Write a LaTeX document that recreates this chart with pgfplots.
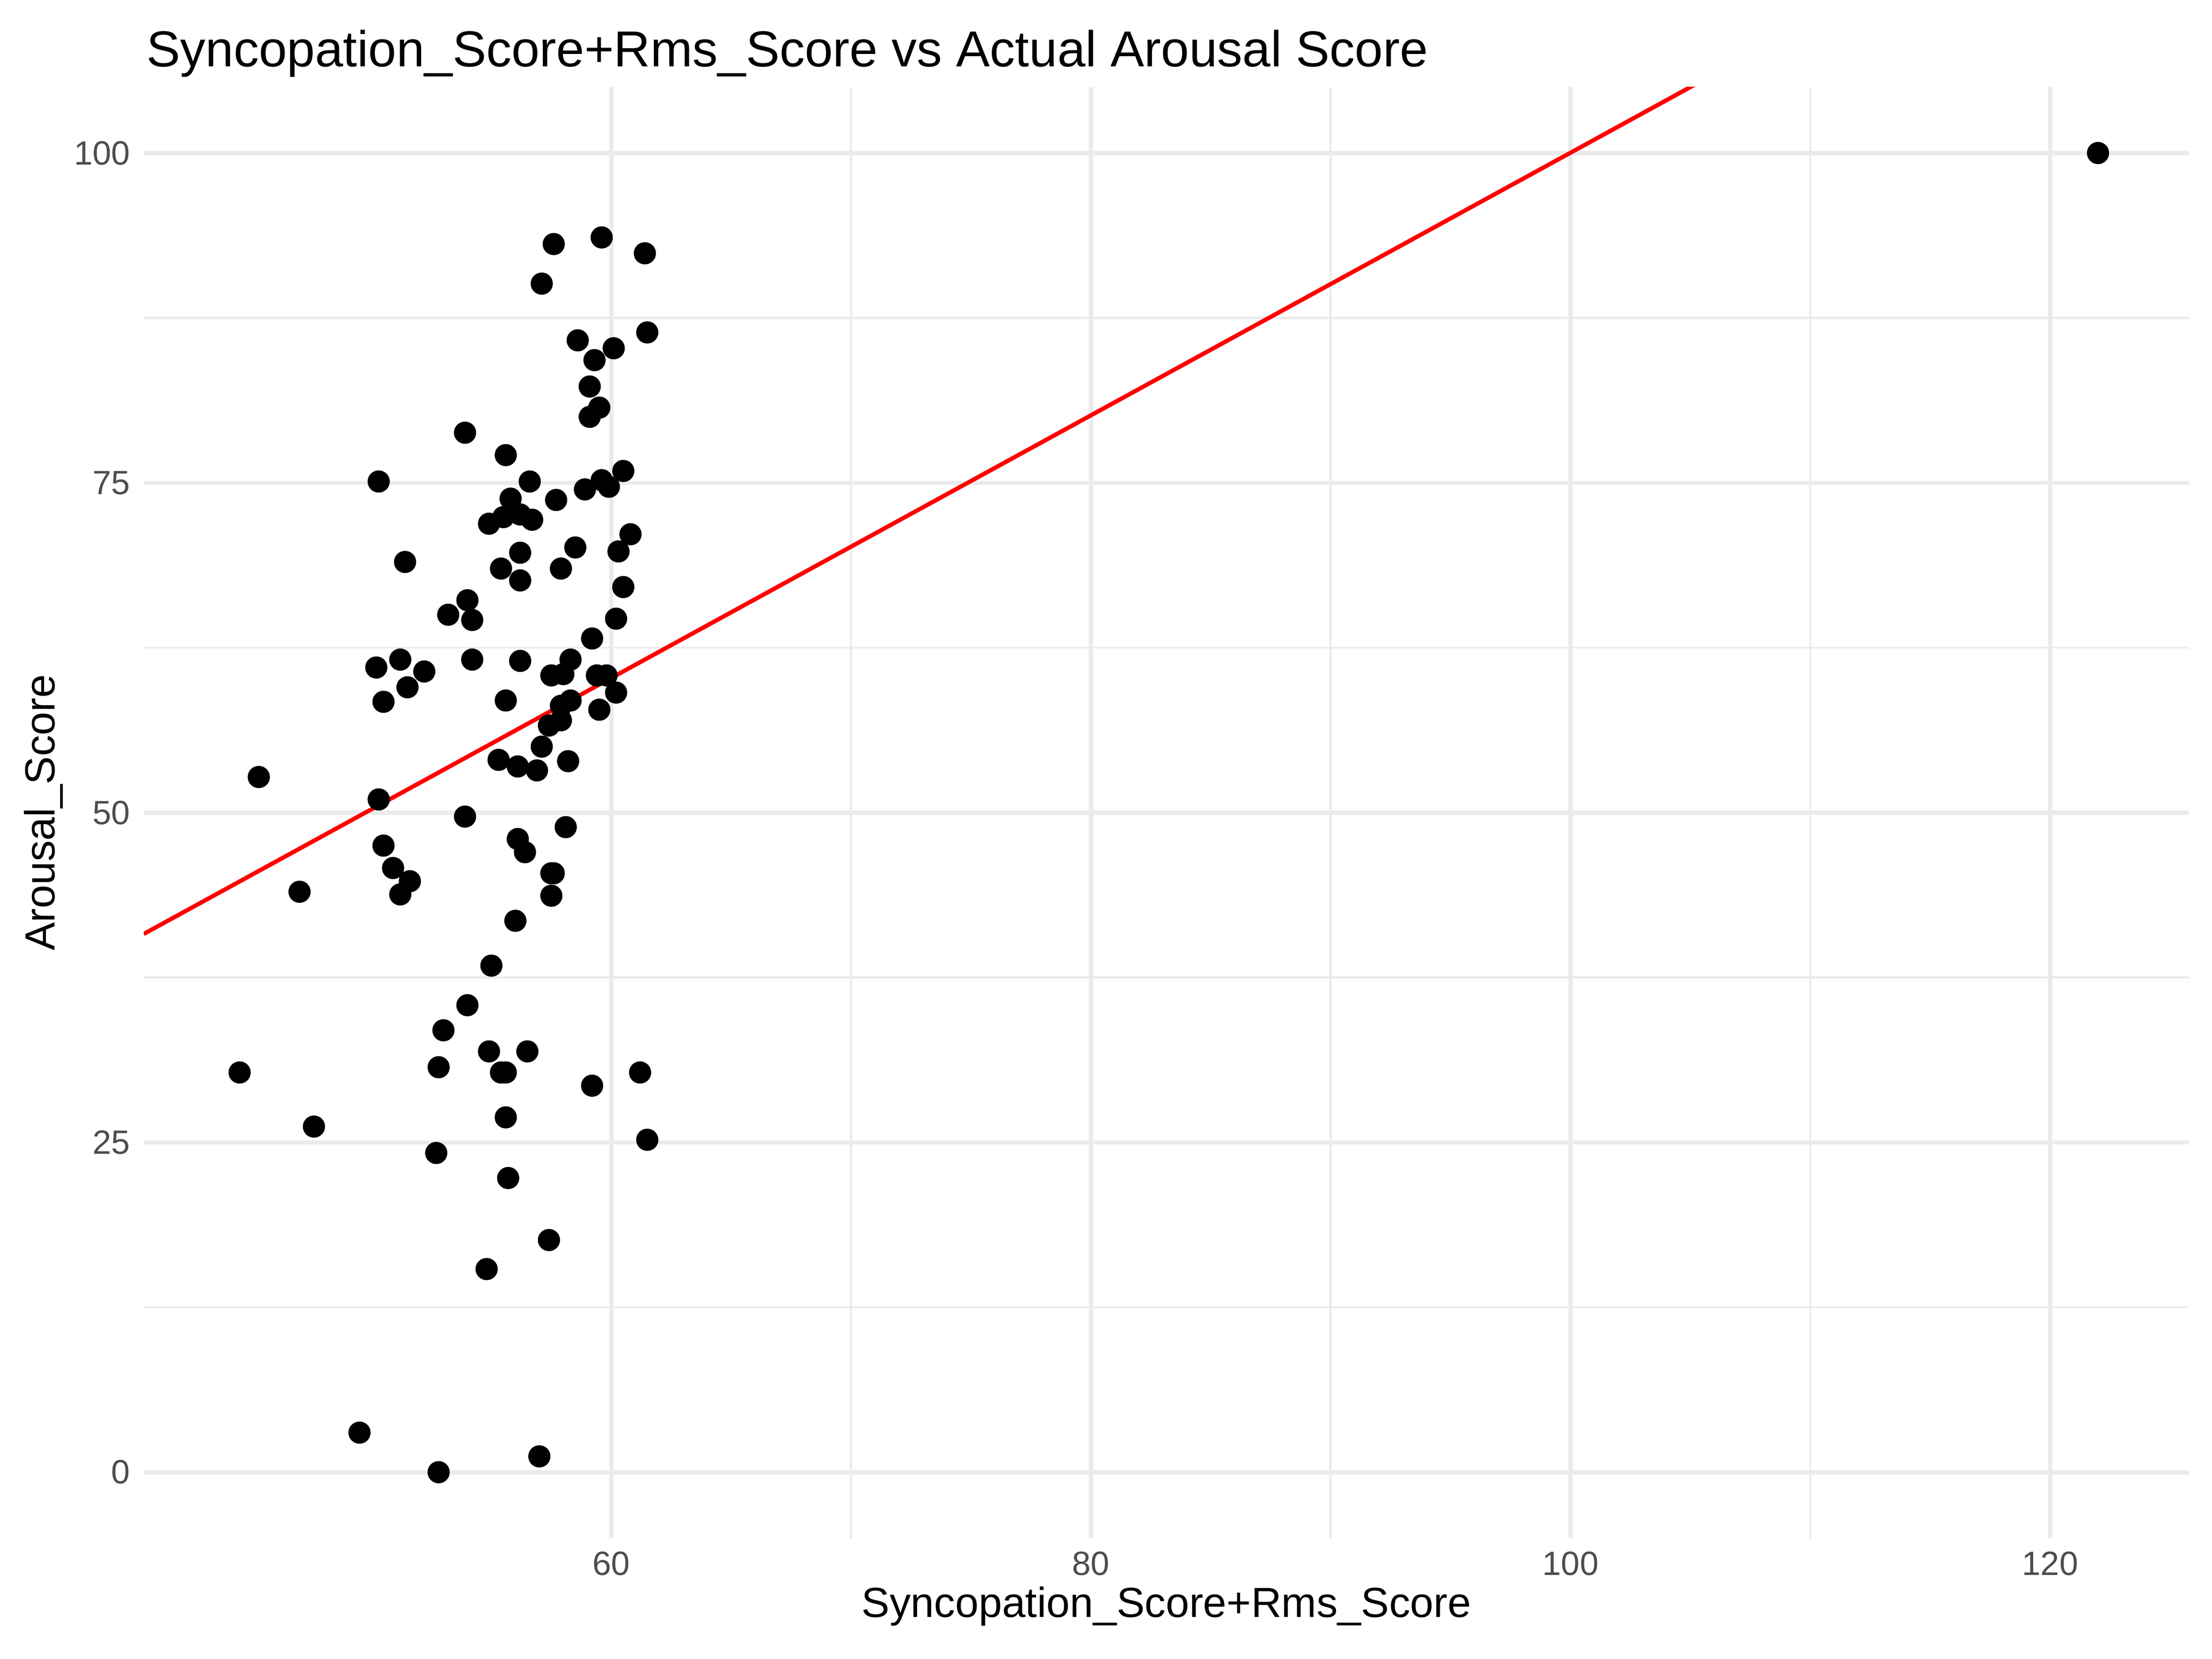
\documentclass[border=0pt]{standalone}
\usepackage{pgfplots}
\pgfplotsset{compat=1.18}
\usepackage{fontspec}
\setmainfont{Liberation Sans}
\definecolor{gridc}{HTML}{EBEBEB}
\definecolor{tickc}{HTML}{4D4D4D}
\begin{document}
\begin{tikzpicture}
\useasboundingbox (0,0) rectangle (20.32cm,15.24cm);
\begin{axis}[at={(1.32cm,1.11cm)},anchor=south west,scale only axis,
 width=18.79cm,height=13.33cm,
 xmin=40.5,xmax=125.8,ymin=-5,ymax=105,
 axis line style={draw=none},tick style={draw=none},
 xtick={60,80,100,120},ytick={0,25,50,75,100},
 minor x tick num=1,minor y tick num=1,
 grid=both,major grid style={gridc,line width=1.1pt},minor grid style={gridc,line width=0.55pt},
 ticklabel style={font=\fontsize{8.8}{10}\selectfont,text=tickc},
 /pgf/number format/assume math mode=true,
 xlabel={Syncopation\_Score+Rms\_Score},ylabel={Arousal\_Score},
 label style={font=\fontsize{11}{13}\selectfont},
 xlabel style={yshift=4pt},ylabel style={yshift=-4pt},
 clip=true]
\addplot[red,line width=1.1pt,domain=40.5:125.8] coordinates {(40.5,40.8) (125.8,125.7)};
\addplot[only marks,mark=*,mark size=2.7pt,black] coordinates {
(122.0,100)(44.5,30.3)(45.3,52.7)(47.0,44.0)(47.6,26.2)(49.5,3.0)(50.2,61.0)(50.3,75.1)(50.3,51.0)(50.5,58.4)(50.5,47.5)(50.9,45.8)(51.2,61.6)(51.2,43.8)(51.4,69.0)(51.5,59.5)(51.6,44.8)(52.2,60.7)(52.7,24.2)(52.8,30.7)(52.8,0)(53.0,33.5)(53.2,65.0)(53.9,78.8)(53.9,49.7)(54.0,66.1)(54.0,35.4)(54.2,64.6)(54.2,61.6)(54.8,15.4)(54.9,71.9)(54.9,31.9)(55.0,38.4)(55.3,54.0)(55.4,30.3)(55.4,68.5)(55.5,72.4)(55.6,58.5)(55.6,77.1)(55.6,30.3)(55.6,26.9)(55.7,22.3)(55.8,73.8)(56.0,41.8)(56.1,48.0)(56.1,53.5)(56.2,69.7)(56.2,67.6)(56.2,61.5)(56.2,72.6)(56.4,47.0)(56.5,31.9)(56.6,75.1)(56.7,72.2)(56.9,53.2)(57.0,1.2)(57.1,55.0)(57.1,90.1)(57.4,56.6)(57.4,17.6)(57.5,60.4)(57.5,43.7)(57.5,45.4)(57.6,93.1)(57.6,45.4)(57.7,73.7)(57.9,68.5)(57.9,57.0)(57.9,58.1)(58.0,60.5)(58.1,48.9)(58.2,53.9)(58.3,61.6)(58.3,58.5)(58.5,70.1)(58.6,85.8)(58.9,74.5)(59.1,80.0)(59.1,82.3)(59.2,29.3)(59.2,63.2)(59.3,84.3)(59.4,60.4)(59.5,80.7)(59.5,57.8)(59.6,93.6)(59.6,75.2)(59.8,60.4)(59.9,74.7)(60.1,85.2)(60.2,64.7)(60.2,59.1)(60.3,69.8)(60.5,75.9)(60.5,67.1)(60.8,71.1)(61.2,30.3)(61.4,92.4)(61.5,86.4)(61.5,25.2)};
\end{axis}
\node[anchor=base west,font=\fontsize{13.2}{15}\selectfont,inner sep=0pt] at (1.34cm,14.63cm) {Syncopation\_Score+Rms\_Score vs Actual Arousal Score};
\end{tikzpicture}
\end{document}
